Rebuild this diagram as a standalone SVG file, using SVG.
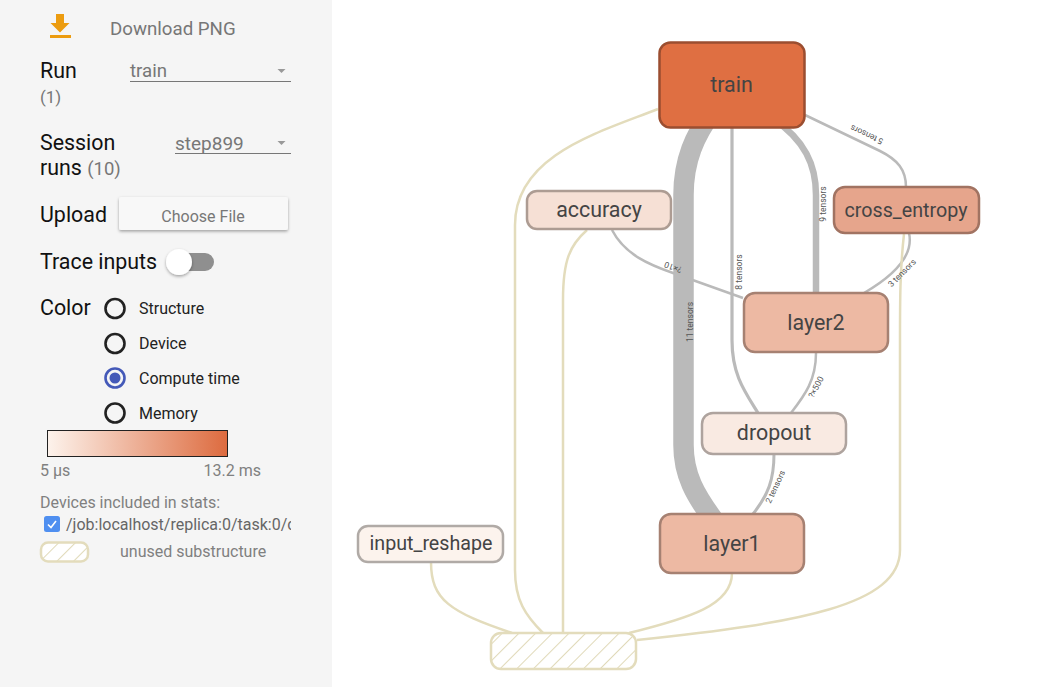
<svg xmlns="http://www.w3.org/2000/svg" width="1042" height="687" viewBox="0 0 1042 687">
<style>
text{font-family:Roboto,"Liberation Sans",sans-serif}
.lbl{font-size:21.4px;fill:#111}
.grey{fill:#777}
.opt{font-size:16px;fill:#222}
.small{font-size:16px;fill:#808080}
.node rect{stroke-width:2.5}
.node text{font-size:21.4px;fill:#444;text-anchor:middle}
.node text.long{font-size:19.7px}
.ref{fill:none;stroke:#bababa}
.aux{fill:none;stroke:#e3dcbc;stroke-width:2.5}
.el{font-size:8.5px;fill:#555;text-anchor:middle}
.radio{fill:none;stroke:#222;stroke-width:2.6}
</style>
<defs>
<linearGradient id="scale"><stop offset="0" stop-color="#fdf3ec"/><stop offset="1" stop-color="#dd6b3f"/></linearGradient>
<pattern id="hatch" width="11.8" height="11.8" patternUnits="userSpaceOnUse" patternTransform="rotate(45)"><rect width="11.8" height="11.8" fill="#fff"/><line x1="0" y1="0" x2="0" y2="11.8" stroke="#e0d9b8" stroke-width="2"/></pattern>
<filter id="sh" x="-20%" y="-30%" width="140%" height="170%"><feDropShadow dx="0" dy="1.5" stdDeviation="1.5" flood-color="#000" flood-opacity=".35"/></filter>
<clipPath id="devclip"><rect x="40" y="510" width="251" height="30"/></clipPath>
</defs>
<rect width="1042" height="687" fill="#fff"/>
<g id="sidebar">
<rect width="332" height="687" fill="#f5f5f5"/>
<path d="M56 14h8v9h5.500l-9.500 9.500-9.500-9.500H56z" fill="#ec9c10"/><rect x="50" y="35" width="21" height="3" fill="#ec9c10"/>
<text x="110" y="35" font-size="18.700" fill="#777">Download PNG</text>
<text x="40" y="77.500" class="lbl">Run</text>
<text x="40" y="103" font-size="17" class="grey">(1)</text>
<text x="130" y="77" font-size="18.700" class="grey">train</text>
<line x1="130" y1="81.500" x2="291" y2="81.500" stroke="#777" stroke-width="1.200"/>
<path d="M277.500 69h8l-4 4z" fill="#999"/>
<text x="40" y="149.500" class="lbl">Session</text>
<text x="40" y="175" class="lbl">runs <tspan font-size="18.500" fill="#777">(10)</tspan></text>
<text x="175" y="150" font-size="19" class="grey">step899</text>
<line x1="175" y1="153.500" x2="291" y2="153.500" stroke="#777" stroke-width="1.200"/>
<path d="M277.500 141h8l-4 4z" fill="#999"/>
<text x="40" y="222" class="lbl">Upload</text>
<rect x="119" y="197" width="169" height="33" rx="2" fill="#f8f8f8" filter="url(#sh)"/>
<text x="203" y="222" font-size="16" fill="#777" text-anchor="middle">Choose File</text>
<text x="40" y="268.500" class="lbl">Trace inputs</text>
<rect x="180" y="253" width="34" height="18" rx="9" fill="#8f8f8f"/>
<circle cx="179" cy="262" r="13" fill="#fff" filter="url(#sh)"/>
<text x="40" y="315" class="lbl">Color</text>
<circle cx="115" cy="308.500" r="9.500" class="radio"/>
<text x="139" y="314" class="opt">Structure</text>
<circle cx="115" cy="343.500" r="9.500" class="radio"/>
<text x="139" y="349" class="opt">Device</text>
<circle cx="115" cy="378" r="9.500" class="radio" style="stroke:#4459b8"/><circle cx="115" cy="378" r="5.500" fill="#4459b8"/>
<text x="139" y="384" class="opt">Compute time</text>
<circle cx="115" cy="413" r="9.500" class="radio"/>
<text x="139" y="418.500" class="opt">Memory</text>
<rect x="47.500" y="430.500" width="180" height="26" fill="url(#scale)" stroke="#222" stroke-width="1"/>
<text x="40" y="476" class="small">5 µs</text>
<text x="203.500" y="476" class="small">13.2 ms</text>
<text x="40" y="508" font-size="16" fill="#808080">Devices included in stats:</text>
<rect x="44" y="516" width="16" height="16" rx="2.500" fill="#4f8ff0"/>
<path d="M48 524.500l3 3 5-6.500" fill="none" stroke="#fff" stroke-width="1.600"/>
<text x="66" y="530" font-size="16" fill="#666" clip-path="url(#devclip)">/job:localhost/replica:0/task:0/cpu:0</text>
<rect x="41" y="542.500" width="47" height="19" rx="7" fill="url(#hatch)" stroke="#e3dcbc" stroke-width="2.500"/>
<text x="120" y="557" class="small">unused substructure</text>
</g>
<g id="connectors">
<path class="ref" stroke-width="2.500" d="M612 230C625 255 650 265 673 273L743 298"/>
<path class="ref" stroke-width="20.500" d="M712 112C695 135 683.500 160 683.500 195V445C683.500 475 695 495 715 522"/>
<path class="ref" stroke-width="3.200" d="M732 127V340C732 375 745 392 758 413"/>
<path class="ref" stroke-width="6.500" d="M772 118C805 140 816 165 816 195V293"/>
<path class="ref" stroke-width="2.500" d="M805 115L880 151C898 160 906 170 906 187"/>
<path class="ref" stroke-width="2.500" d="M909 233C914 255 895 275 864 293"/>
<path class="ref" stroke-width="2.500" d="M816 353C816 380 805 395 791 413"/>
<path class="ref" stroke-width="3" d="M774 454C774 480 768 495 753 514"/>
<path class="aux" d="M658 109C600 132 515 155 515 225V570C515 600 525 615 543 633"/>
<path class="aux" d="M587 230C570 245 563 260 563 300V633"/>
<path class="aux" d="M431 562C431 600 450 612 512 633"/>
<path class="aux" d="M732 573C732 605 690 618 629 633"/>
<path class="aux" d="M904 234C900 270 900 300 900 340V550C900 605 800 623 637 640"/>
<g class="el-labels">
<text class="el" transform="translate(693 322) rotate(-90)">11 tensors</text>
<text class="el" transform="translate(742 272) rotate(-90)">8 tensors</text>
<text class="el" transform="translate(826 204) rotate(-90)">9 tensors</text>
<text class="el" transform="translate(868 132) rotate(205)">5 tensors</text>
<text class="el" transform="translate(674 264.500) rotate(200)">?×10</text>
<text class="el" transform="translate(904 275) rotate(-45)">3 tensors</text>
<text class="el" transform="translate(818.500 388.500) rotate(-62)">?×500</text>
<text class="el" transform="translate(778 488) rotate(-65)">2 tensors</text>
</g>
</g>
<g id="train" class="node"><rect x="659.500" y="42.500" width="145" height="85" rx="11" fill="#df6f42" stroke="#9b4e30"/><text x="731.500" y="92">train</text></g>
<g id="accuracy" class="node"><rect x="527" y="191" width="144" height="38" rx="10" fill="#f6e0d5" stroke="#ad9c93"/><text x="599" y="217">accuracy</text></g>
<g id="cross_entropy" class="node"><rect x="834" y="187" width="145" height="46" rx="11" fill="#e6a58c" stroke="#a17362"/><text class="long" x="906" y="217">cross_entropy</text></g>
<g id="layer2" class="node"><rect x="744" y="293" width="144" height="59" rx="11" fill="#edb9a3" stroke="#a68172"/><text x="816" y="330">layer2</text></g>
<g id="dropout" class="node"><rect x="702" y="413" width="144" height="41" rx="11" fill="#f9eae2" stroke="#aea39e"/><text x="774" y="440">dropout</text></g>
<g id="layer1" class="node"><rect x="660" y="514" width="144" height="59" rx="11" fill="#edb9a3" stroke="#a68172"/><text x="732" y="551">layer1</text></g>
<g id="input_reshape" class="node"><rect x="358" y="526" width="145" height="36" rx="10" fill="#fcf3ed" stroke="#b0aaa6"/><text class="long" x="431" y="550">input_reshape</text></g>
<g id="unused" class="node"><rect x="491" y="633" width="145" height="36" rx="10" fill="url(#hatch)" stroke="#e3dcbc"/></g>
</svg>
